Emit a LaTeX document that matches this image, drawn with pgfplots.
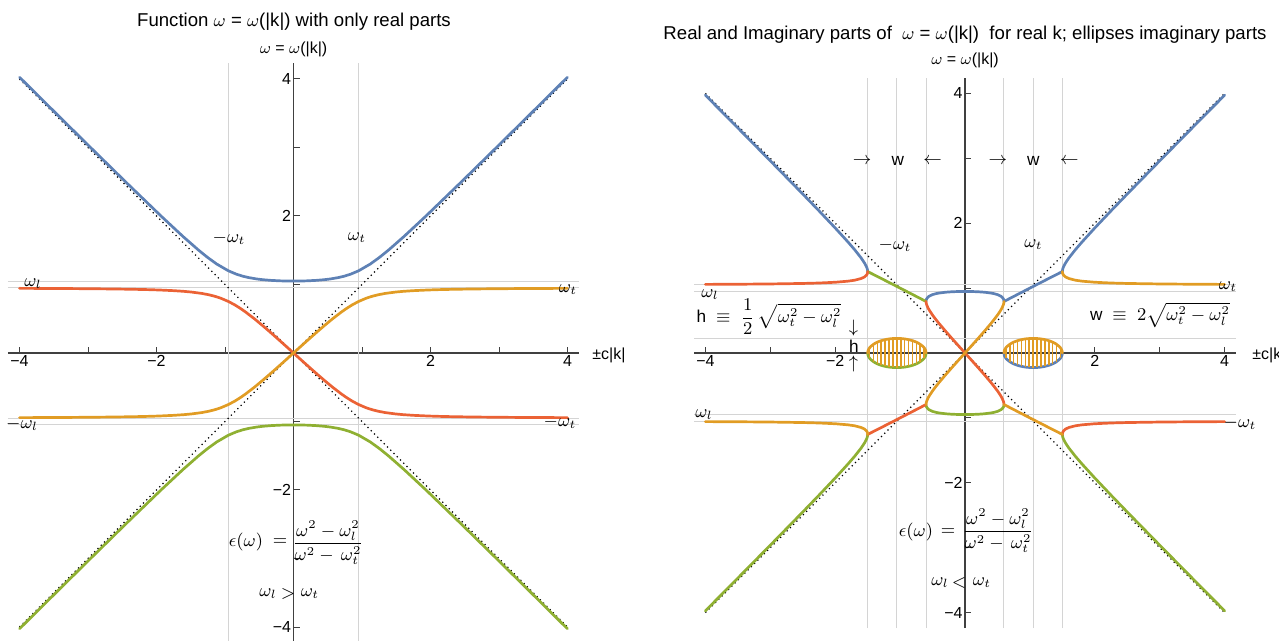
\documentclass[border=0pt]{standalone}
\usepackage{fontspec}
\setmainfont{Liberation Sans}
\usepackage{pgfplots}
\usepackage{pgfplotstable}
\pgfplotsset{compat=1.18}

\definecolor{mblue}{HTML}{5E81B5}
\definecolor{morange}{HTML}{E19C24}
\definecolor{mgreen}{HTML}{8FB032}
\definecolor{mred}{HTML}{EB6235}

% ---------- omega_l > omega_t  (omega_l = 1.05, omega_t = 0.95) ----------
% upper polariton branch, k >= 0
\pgfplotstableread{
k w
0 1.05
0.05 1.0502
0.1 1.0509
0.15 1.0519
0.2 1.0535
0.3275 1.06
0.4475 1.07
0.5314 1.08
0.6504 1.10
0.7359 1.12
0.8323 1.15
0.9509 1.20
1.1229 1.30
1.2607 1.40
1.3842 1.50
1.6122 1.70
1.9344 2.00
2.4528 2.50
2.9627 3.00
3.4690 3.50
3.9734 4.00
4.0 4.025
}\upL
% lower polariton branch, k >= 0
\pgfplotstableread{
k w
0 0
0.1106 0.1
0.2220 0.2
0.3349 0.3
0.4507 0.4
0.5715 0.5
0.7020 0.6
0.7737 0.65
0.8530 0.7
0.9452 0.75
1.0619 0.8
1.1550 0.83
1.2350 0.85
1.3404 0.87
1.4923 0.89
1.6004 0.90
1.7476 0.91
1.9657 0.92
2.1228 0.925
2.3378 0.93
2.6567 0.935
3.1991 0.94
3.7830 0.943
4.0 0.9438
}\loL

% ---------- omega_l < omega_t  (omega_l^2 = 0.9, omega_t = 1.05) ----------
% 0 <= k <= 0.6 : both real roots
\pgfplotstableread{
k w1 w2
0 0 0.9487
0.05 0.0554 0.9484
0.1 0.1108 0.9475
0.2 0.2225 0.9437
0.3 0.3364 0.9364
0.4 0.4547 0.9237
0.45 0.5170 0.9139
0.5 0.5835 0.8997
0.55 0.6587 0.8767
0.57 0.6946 0.8616
0.59 0.7408 0.8362
0.595 0.7575 0.8248
0.599 0.7782 0.8082
0.6 0.7937 0.7937
}\inR
% 0.6 <= k <= 1.5 : real part of the complex pair
\pgfplotstableread{
k re
0.6 0.7937
0.65 0.8197
0.7 0.8456
0.75 0.8714
0.8 0.8972
0.85 0.9230
0.9 0.9487
0.95 0.9744
1.0 1.0
1.05 1.0256
1.1 1.0512
1.15 1.0767
1.2 1.1023
1.25 1.1278
1.3 1.1533
1.35 1.1787
1.4 1.2042
1.45 1.2296
1.5 1.2550
}\bandR
% imaginary part (ellipse outline)
\pgfplotstableread{
k im
0.600 0
0.605 0.0335
0.610 0.0472
0.620 0.0663
0.630 0.0808
0.650 0.1031
0.700 0.1414
0.750 0.1677
0.800 0.1871
0.850 0.2016
0.900 0.2121
0.950 0.2194
1.000 0.2236
1.050 0.2250
1.100 0.2236
1.150 0.2194
1.200 0.2121
1.250 0.2016
1.300 0.1871
1.350 0.1677
1.400 0.1414
1.450 0.1031
1.470 0.0808
1.480 0.0663
1.490 0.0472
1.495 0.0335
1.500 0
}\ellR
% imaginary part (filling stripes)
\pgfplotstableread{
k im
0.63 0.0808
0.69 0.1350
0.75 0.1677
0.81 0.1903
0.87 0.2062
0.93 0.2169
0.99 0.2230
1.05 0.2250
1.11 0.2230
1.17 0.2169
1.23 0.2062
1.29 0.1903
1.35 0.1677
1.41 0.1350
1.47 0.0808
}\strR
% k >= 1.5 : both real roots
\pgfplotstableread{
k w1 w2
1.5 1.2550 1.2550
1.501 1.2405 1.2705
1.505 1.2239 1.2912
1.51 1.2124 1.3078
1.52 1.1973 1.3330
1.55 1.1714 1.3894
1.6 1.1477 1.4639
1.7 1.1219 1.5910
1.8 1.1071 1.7071
2.0 1.0900 1.9266
2.25 1.0784 2.1908
2.5 1.0715 2.4499
3.0 1.0638 2.9612
3.5 1.0597 3.4680
4.0 1.0572 3.9727
}\outR

\pgfplotsset{
  dispaxis/.style={
    anchor=origin, axis lines=middle, clip=false,
    axis line style={-, black!75, line width=0.55pt},
    xmin=-4.17, xmax=4.17,
    xtick={-4,-2,2,4}, xticklabels={−4,−2,2,4},
    ytick={-4,-2,2,4}, yticklabels={−4,−2,2,4},
    minor xtick={-3,-1,1,3}, minor ytick={-3,-1,1,3},
    tick align=inside,
    major tick length=3pt, minor tick length=3pt,
    tick style={black!75, line width=0.5pt},
    ticklabel style={font=\fontsize{8}{9}\selectfont},
    extra tick style={grid=major, major tick length=0pt, xticklabel={}, yticklabel={}},
    major grid style={black!17, line width=0.5pt},
  },
  crv/.style={line width=1.35pt, line join=round, line cap=round, no marks},
  asym/.style={black, line width=0.6pt, dash pattern=on 0.6pt off 1.7pt, no marks},
}

\newcommand\tf{\fontsize{9.3}{11}\selectfont}
\newcommand\lf{\fontsize{8}{9.5}\selectfont}
\newcommand\af{\fontsize{8.6}{10}\selectfont}

\begin{document}
\begin{tikzpicture}[every node/.append style={inner sep=1pt}]
\path[use as bounding box] (0,0) rectangle (639.5pt,-320.5pt);

% ---------------- left panel ----------------
\begin{axis}[dispaxis, at={(146.75pt,-176.5pt)}, x=34.25pt, y=34.25pt,
  ymin=-4.23, ymax=4.23,
  extra x ticks={-0.95,0.95}, extra y ticks={-1.05,-0.95,0.95,1.05}]
\addplot[asym] coordinates {(-4,-4) (4,4)};
\addplot[asym] coordinates {(-4,4) (4,-4)};
\addplot[crv, mblue] table[x=k, y=w] {\upL};
\addplot[crv, mblue] table[x expr=-\thisrow{k}, y=w] {\upL};
\addplot[crv, mgreen] table[x=k, y expr=-\thisrow{w}] {\upL};
\addplot[crv, mgreen] table[x expr=-\thisrow{k}, y expr=-\thisrow{w}] {\upL};
\addplot[crv, mred] table[x expr=-\thisrow{k}, y=w] {\loL};
\addplot[crv, mred] table[x=k, y expr=-\thisrow{w}] {\loL};
\addplot[crv, morange] table[x=k, y=w] {\loL};
\addplot[crv, morange] table[x expr=-\thisrow{k}, y expr=-\thisrow{w}] {\loL};
\end{axis}

% ---------------- right panel ----------------
\begin{axis}[dispaxis, at={(482.5pt,-176.5pt)}, x=32.45pt, y=32.45pt,
  ymin=-4.24, ymax=4.24,
  extra x ticks={-1.5,-1.05,-0.6,0.6,1.05,1.5},
  extra y ticks={-1.05,-0.95,0.225,0.95,1.05}]
\addplot[asym] coordinates {(-4,-4) (4,4)};
\addplot[asym] coordinates {(-4,4) (4,-4)};
% blue
\addplot[crv, mblue] table[x=k, y=w2] {\inR};
\addplot[crv, mblue] table[x expr=-\thisrow{k}, y=w2] {\inR};
\addplot[crv, mblue] table[x=k, y=re] {\bandR};
\addplot[crv, mblue] table[x=k, y=w2] {\outR};
\addplot[crv, mblue] table[x expr=-\thisrow{k}, y=w2] {\outR};
\addplot[crv, mblue] table[x=k, y expr=-\thisrow{im}] {\ellR};
% green
\addplot[crv, mgreen] table[x=k, y expr=-\thisrow{w2}] {\inR};
\addplot[crv, mgreen] table[x expr=-\thisrow{k}, y expr=-\thisrow{w2}] {\inR};
\addplot[crv, mgreen] table[x expr=-\thisrow{k}, y=re] {\bandR};
\addplot[crv, mgreen] table[x=k, y expr=-\thisrow{w2}] {\outR};
\addplot[crv, mgreen] table[x expr=-\thisrow{k}, y expr=-\thisrow{w2}] {\outR};
\addplot[crv, mgreen] table[x expr=-\thisrow{k}, y expr=-\thisrow{im}] {\ellR};
% red
\addplot[crv, mred] table[x expr=-\thisrow{k}, y=w1] {\inR};
\addplot[crv, mred] table[x=k, y expr=-\thisrow{w1}] {\inR};
\addplot[crv, mred] table[x expr=-\thisrow{k}, y=w1] {\outR};
\addplot[crv, mred] table[x=k, y expr=-\thisrow{w1}] {\outR};
\addplot[crv, mred] table[x expr=-\thisrow{k}, y expr=-\thisrow{re}] {\bandR};
% orange
\addplot[crv, morange] table[x=k, y=w1] {\inR};
\addplot[crv, morange] table[x expr=-\thisrow{k}, y expr=-\thisrow{w1}] {\inR};
\addplot[crv, morange] table[x=k, y=w1] {\outR};
\addplot[crv, morange] table[x expr=-\thisrow{k}, y expr=-\thisrow{w1}] {\outR};
\addplot[crv, morange] table[x=k, y expr=-\thisrow{re}] {\bandR};
\addplot[crv, morange] table[x=k, y=im] {\ellR};
\addplot[crv, morange] table[x expr=-\thisrow{k}, y=im] {\ellR};
% stripes filling the imaginary parts
\addplot[ycomb, morange, line width=0.8pt, no marks] table[x=k, y=im] {\strR};
\addplot[ycomb, morange, line width=0.8pt, no marks] table[x=k, y expr=-\thisrow{im}] {\strR};
\addplot[ycomb, morange, line width=0.8pt, no marks] table[x expr=-\thisrow{k}, y=im] {\strR};
\addplot[ycomb, morange, line width=0.8pt, no marks] table[x expr=-\thisrow{k}, y expr=-\thisrow{im}] {\strR};
\end{axis}

% ---------------- titles and axis labels ----------------
\node[font=\tf] at (147pt,-11pt) {Function $\omega$ = $\omega$(|k|) with only real parts};
\node[font=\tf] at (482.5pt,-17.5pt) {Real and Imaginary parts of \ $\omega$ = $\omega$(|k|) \ for real k; ellipses imaginary parts};
\node[font=\lf] at (146.75pt,-24.5pt) {$\omega$ = $\omega$(|k|)};
\node[font=\lf] at (482.5pt,-30pt) {$\omega$ = $\omega$(|k|)};
\node[font=\lf, anchor=west] at (295pt,-177.5pt) {±c|k|};
\node[font=\lf, anchor=west] at (625pt,-177.5pt) {±c|k|};

% ---------------- left annotations ----------------
\node[font=\af] at (114.5pt,-119pt) {$-\omega_t$};
\node[font=\af] at (178.5pt,-119pt) {$\omega_t$};
\node[font=\af] at (16.5pt,-142pt) {$\omega_l$};
\node[font=\af] at (284pt,-145pt) {$\omega_t$};
\node[font=\af] at (11pt,-212pt) {$-\omega_l$};
\node[font=\af] at (280pt,-211pt) {$-\omega_t$};
\node[font=\af] at (123pt,-271pt) {$\epsilon(\omega)$};
\node[font=\af] at (140pt,-271pt) {$=$};
\node[font=\af] at (164pt,-271.5pt) {$\displaystyle\frac{\omega^2-\omega_l^2}{\omega^2-\,\omega_t^2}$};
\node[font=\af] at (134pt,-297pt) {$\omega_l$};
\node[font=\af] at (144pt,-297pt) {$>$};
\node[font=\af] at (155pt,-297pt) {$\omega_t$};

% ---------------- right annotations ----------------
\node[font=\af] at (431pt,-80.5pt) {$\rightarrow$};
\node[font=\af] at (448.9pt,-80.5pt) {w};
\node[font=\af] at (466.3pt,-80.5pt) {$\leftarrow$};
\node[font=\af] at (498.9pt,-80.5pt) {$\rightarrow$};
\node[font=\af] at (516.7pt,-80.5pt) {w};
\node[font=\af] at (534.7pt,-80.5pt) {$\leftarrow$};
\node[font=\af] at (447.5pt,-122.5pt) {$-\omega_t$};
\node[font=\af] at (516.7pt,-122.5pt) {$\omega_t$};
\node[font=\af] at (355pt,-147.5pt) {$\omega_l$};
\node[font=\af] at (384.5pt,-158.5pt) {h $\;\equiv\;\displaystyle\frac{1}{2}\,\sqrt{\omega_t^2-\omega_l^2}$};
\node[font=\af] at (426.75pt,-164pt) {$\downarrow$};
\node[font=\af] at (427pt,-173pt) {h};
\node[font=\af] at (426.75pt,-182pt) {$\uparrow$};
\node[font=\af] at (614pt,-143.5pt) {$\omega_t$};
\node[font=\af] at (580pt,-157.5pt) {w $\;\equiv\;2\sqrt{\omega_t^2-\omega_l^2}$};
\node[font=\af] at (352pt,-207.5pt) {$\omega_l$};
\node[font=\af] at (620pt,-211.5pt) {$-\omega_t$};
\node[font=\af] at (458pt,-266pt) {$\epsilon(\omega)$};
\node[font=\af] at (474pt,-266pt) {$=$};
\node[font=\af] at (499pt,-265.5pt) {$\displaystyle\frac{\omega^2-\omega_l^2}{\omega^2-\,\omega_t^2}$};
\node[font=\af] at (470pt,-291.5pt) {$\omega_l$};
\node[font=\af] at (479.5pt,-291.5pt) {$<$};
\node[font=\af] at (491pt,-291.5pt) {$\omega_t$};
\end{tikzpicture}
\end{document}
